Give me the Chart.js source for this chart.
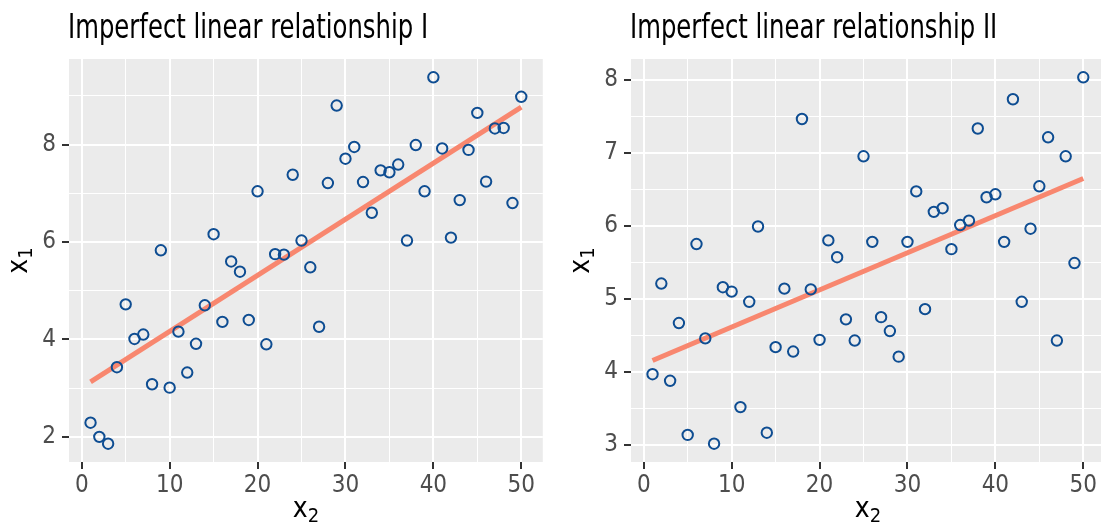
<!DOCTYPE html>
<html>
<head>
<meta charset="utf-8">
<script src="https://cdn.jsdelivr.net/npm/chart.js@4.4.1/dist/chart.umd.min.js"></script>
<style>
  html, body { margin: 0; padding: 0; background: #fff; overflow: hidden; }
  body { width: 1101px; height: 525px; position: relative; }
  .panel { position: absolute; top: 0; width: 550px; height: 525px; }
  #p1 { left: 0; }
  #p2 { left: 562px; }
</style>
</head>
<body>
<div class="panel" id="p1"><canvas id="c1" width="550" height="525"></canvas></div>
<div class="panel" id="p2"><canvas id="c2" width="550" height="525"></canvas></div>
<script>
const FONT = '"Liberation Sans Narrow", "DejaVu Sans Condensed", "Roboto", sans-serif';

// data
const xVals = [1, 2, 3, 4, 5, 6, 7, 8, 9, 10, 11, 12, 13, 14, 15, 16, 17, 18, 19, 20,
  21, 22, 23, 24, 25, 26, 27, 28, 29, 30, 31, 32, 33, 34, 35, 36, 37, 38, 39, 40,
  41, 42, 43, 44, 45, 46, 47, 48, 49, 50];
const yLeft = [2.29, 2.00, 1.86, 3.43, 4.72, 4.01, 4.10, 3.08, 5.83, 3.01,
  4.16, 3.32, 3.91, 4.70, 6.16, 4.36, 5.60, 5.39, 4.40, 7.04,
  3.90, 5.75, 5.74, 7.38, 6.03, 5.48, 4.26, 7.21, 8.80, 7.71,
  7.95, 7.23, 6.60, 7.47, 7.43, 7.59, 6.03, 7.99, 7.04, 9.38,
  7.92, 6.09, 6.86, 7.89, 8.65, 7.24, 8.33, 8.34, 6.80, 8.98];
const yRight = [3.97, 5.21, 3.88, 4.67, 3.14, 5.75, 4.46, 3.02, 5.16, 5.10,
  3.52, 4.96, 5.99, 3.17, 4.34, 5.14, 4.28, 7.46, 5.13, 4.44,
  5.80, 5.57, 4.72, 4.43, 6.95, 5.78, 4.75, 4.56, 4.21, 5.78,
  6.47, 4.86, 6.19, 6.24, 5.68, 6.01, 6.07, 7.33, 6.39, 6.43,
  5.78, 7.73, 4.96, 5.96, 6.54, 7.21, 4.43, 6.95, 5.49, 8.03];

const xTicks = [0, 10, 20, 30, 40, 50];
const xMinor = [5, 15, 25, 35, 45];
const yTicksLeft = [2, 4, 6, 8];
const yMinorLeft = [3, 5, 7, 9];
const yTicksRight = [3, 4, 5, 6, 7, 8];
const yMinorRight = [3.5, 4.5, 5.5, 6.5, 7.5];

const titles = ['Imperfect linear relationship I', 'Imperfect linear relationship II'];

function fitLine(xs, ys) {
  const n = xs.length;
  const mx = xs.reduce((a, b) => a + b, 0) / n;
  const my = ys.reduce((a, b) => a + b, 0) / n;
  let sxy = 0, sxx = 0;
  for (let i = 0; i < n; i++) {
    sxy += (xs[i] - mx) * (ys[i] - my);
    sxx += (xs[i] - mx) * (xs[i] - mx);
  }
  const b = sxy / sxx;
  const a = my - b * mx;
  const x0 = Math.min(...xs), x1 = Math.max(...xs);
  return [{ x: x0, y: a + b * x0 }, { x: x1, y: a + b * x1 }];
}

// ggplot style 5% padding on each side
function expand(vals) {
  const lo = Math.min(...vals), hi = Math.max(...vals);
  const pad = (hi - lo) * 0.05;
  return [lo - pad, hi + pad];
}

function drawSub(ctx, main, sub, cx, base) {
  ctx.font = '28px ' + FONT;
  const w1 = ctx.measureText(main).width;
  ctx.font = '20px ' + FONT;
  const w2 = ctx.measureText(sub).width;
  const x0 = cx - (w1 + w2) / 2;
  ctx.font = '28px ' + FONT;
  ctx.fillText(main, x0, base);
  ctx.font = '20px ' + FONT;
  ctx.fillText(sub, x0 + w1, base + 5);
}

const panelPlugin = {
  id: 'panel',
  beforeDraw(chart) {
    const { ctx, chartArea: a } = chart;
    ctx.save();
    ctx.fillStyle = '#EBEBEB';
    ctx.fillRect(a.left, a.top, a.right - a.left, a.bottom - a.top);
    ctx.restore();
  },
  afterDraw(chart, args, opts) {
    const { ctx, chartArea: a } = chart;
    ctx.save();
    ctx.fillStyle = '#000';
    ctx.textBaseline = 'alphabetic';
    // title, squeezed a little to look like a narrow face
    ctx.save();
    ctx.translate(a.left - 1, 38);
    ctx.scale(0.82, 1);
    ctx.font = '33px ' + FONT;
    ctx.fillText(opts.title, 0, 0);
    ctx.restore();
    drawSub(ctx, 'x', '2', (a.left + a.right) / 2, 517);
    ctx.translate(27, (a.top + a.bottom) / 2);
    ctx.rotate(-Math.PI / 2);
    drawSub(ctx, 'x', '1', 0, 0);
    ctx.restore();
  }
};

function makeChart(id, ys, yMajor, yMinor, title) {
  const xr = expand(xVals);
  const yr = expand(ys);
  const isMajor = (list) => (c) => c.tick && list.includes(c.tick.value);
  return new Chart(document.getElementById(id), {
    type: 'scatter',
    data: {
      datasets: [
        {
          data: xVals.map((x, i) => ({ x: x, y: ys[i] })),
          pointRadius: 5.2,
          pointBorderWidth: 2,
          borderColor: '#0E4D92',
          backgroundColor: 'rgba(0,0,0,0)',
          order: 1
        },
        {
          data: fitLine(xVals, ys),
          showLine: true,
          borderColor: '#F8876F',
          borderWidth: 5,
          pointRadius: 0,
          order: 2
        }
      ]
    },
    options: {
      responsive: false,
      animation: false,
      layout: { padding: { top: 59, right: 6, left: 0, bottom: 0 } },
      plugins: {
        legend: { display: false },
        tooltip: { enabled: false },
        panel: { title: title }
      },
      scales: {
        x: {
          type: 'linear',
          min: xr[0], max: xr[1],
          afterBuildTicks: (s) => { s.ticks = xTicks.concat(xMinor).map(v => ({ value: v })); },
          afterFit: (s) => { s.height = 63; },
          border: { display: false },
          grid: {
            color: '#FFFFFF',
            lineWidth: (c) => isMajor(xTicks)(c) ? 2 : 1,
            tickLength: 7,
            tickWidth: 2,
            tickColor: (c) => isMajor(xTicks)(c) ? '#333333' : 'rgba(0,0,0,0)'
          },
          ticks: {
            padding: 2,
            color: '#4D4D4D',
            font: { family: FONT, size: 24 },
            maxRotation: 0,
            autoSkip: false,
            callback: (v) => xTicks.includes(v) ? String(v) : ''
          }
        },
        y: {
          type: 'linear',
          min: yr[0], max: yr[1],
          afterBuildTicks: (s) => { s.ticks = yMajor.concat(yMinor).map(v => ({ value: v })); },
          afterFit: (s) => { s.width = 69; },
          border: { display: false },
          grid: {
            color: '#FFFFFF',
            lineWidth: (c) => isMajor(yMajor)(c) ? 2 : 1,
            tickLength: 7,
            tickWidth: 2,
            tickColor: (c) => isMajor(yMajor)(c) ? '#333333' : 'rgba(0,0,0,0)'
          },
          ticks: {
            padding: 6,
            color: '#4D4D4D',
            font: { family: FONT, size: 24 },
            autoSkip: false,
            callback: (v) => yMajor.includes(v) ? String(v) : ''
          }
        }
      }
    },
    plugins: [panelPlugin]
  });
}

makeChart('c1', yLeft, yTicksLeft, yMinorLeft, titles[0]);
makeChart('c2', yRight, yTicksRight, yMinorRight, titles[1]);
</script>
</body>
</html>
